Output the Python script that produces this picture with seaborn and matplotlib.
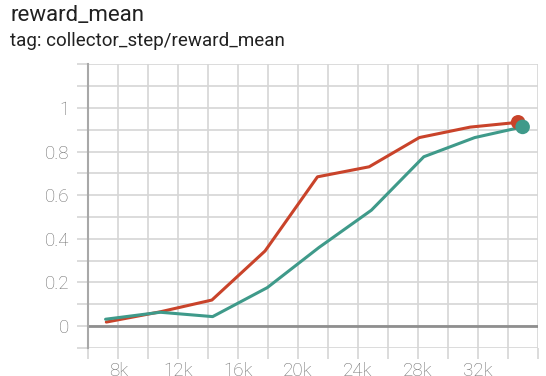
import matplotlib
matplotlib.use("Agg")
import matplotlib.pyplot as plt
from matplotlib.ticker import MultipleLocator, FixedLocator, FuncFormatter
import seaborn as sns
import pandas as pd

# ---- data ----
red_steps = [7200, 10800, 14250, 17800, 21300, 24750, 28100, 31500, 34700]
red_values = [0.018, 0.065, 0.119, 0.344, 0.684, 0.730, 0.864, 0.912, 0.934]
teal_steps = [7150, 10800, 14300, 17950, 21400, 24900, 28400, 31800, 35000]
teal_values = [0.031, 0.063, 0.043, 0.176, 0.360, 0.531, 0.776, 0.864, 0.913]
x_tick_values = [8000, 12000, 16000, 20000, 24000, 28000, 32000]
y_tick_values = [0, 0.2, 0.4, 0.6, 0.8, 1.0]
title = "reward_mean"
subtitle = "tag: collector_step/reward_mean"

red_color = "#c9432a"
teal_color = "#3f9a8a"

sns.set_theme(style="white")
plt.rcParams["font.family"] = ["Roboto", "DejaVu Sans"]

df_red = pd.DataFrame({"step": red_steps, "value": red_values})
df_teal = pd.DataFrame({"step": teal_steps, "value": teal_values})

fig = plt.figure(figsize=(5.46, 3.76), dpi=100)
ax = fig.add_axes([88.35 / 546, 1 - 347.8 / 376, (537.6 - 88.35) / 546, (347.8 - 64.3) / 376])

sns.lineplot(data=df_red, x="step", y="value", ax=ax, color=red_color, linewidth=2.2, zorder=3)
sns.lineplot(data=df_teal, x="step", y="value", ax=ax, color=teal_color, linewidth=2.2, zorder=4)
sns.scatterplot(data=df_red.tail(1), x="step", y="value", ax=ax, color=red_color, s=110, edgecolor="none", zorder=5)
sns.scatterplot(data=df_teal.tail(1), x="step", y="value", ax=ax, color=teal_color, s=110, edgecolor="none", zorder=6)

ax.set_xlim(6000, 36000)
ax.set_ylim(-0.1, 1.2)
ax.set_xlabel("")
ax.set_ylabel("")

grid_c = "#d6d6d6"
ax.xaxis.set_major_locator(FixedLocator(x_tick_values))
ax.xaxis.set_minor_locator(MultipleLocator(2000))
ax.yaxis.set_major_locator(FixedLocator(y_tick_values))
ax.yaxis.set_minor_locator(MultipleLocator(0.1))
ax.grid(True, which="both", color=grid_c, linewidth=1.2, zorder=0)
ax.set_axisbelow(True)

ax.xaxis.set_major_formatter(FuncFormatter(lambda v, p: f"{int(round(v / 1000))}k"))
ax.yaxis.set_major_formatter(FuncFormatter(lambda v, p: ("0" if abs(v) < 1e-9 else ("1" if abs(v - 1) < 1e-9 else f"{v:g}"))))

ax.tick_params(axis="both", which="both", length=8, width=1.2, color=grid_c,
               labelsize=13.5, labelcolor="#707070")
ax.tick_params(axis="both", which="both", bottom=True, left=True)
ax.tick_params(axis="y", pad=5.5)
ax.tick_params(axis="x", pad=2.5)
for lab in ax.get_xticklabels() + ax.get_yticklabels():
    lab.set_fontweight("light")

for s in ["top", "right", "bottom"]:
    ax.spines[s].set_visible(False)
ax.spines["left"].set_color("#a8a8a8")
ax.spines["left"].set_linewidth(1.5)
ax.axhline(0, color="#8f8f8f", linewidth=2, zorder=1)

fig.text(10 / 546, 1 - 20.7 / 376, title, fontsize=16, color="#212121", ha="left", va="baseline")
fig.text(10 / 546, 1 - 46 / 376, subtitle, fontsize=13.5, color="#212121", ha="left", va="baseline")

fig.savefig("out.png", dpi=100)
